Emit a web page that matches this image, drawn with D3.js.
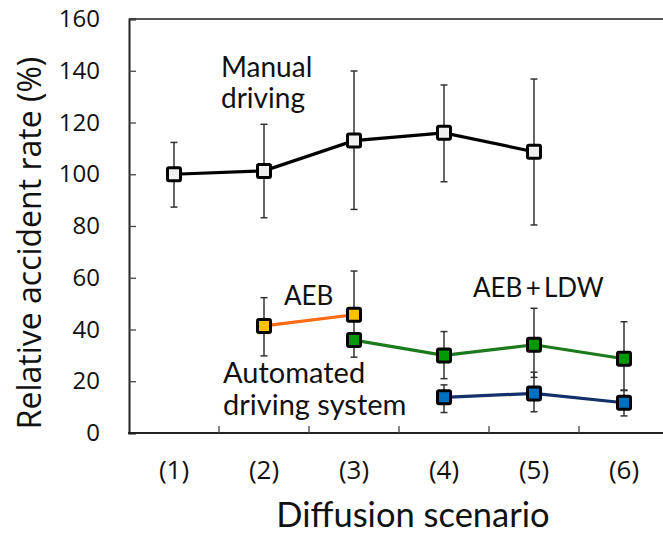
<!DOCTYPE html>
<html>
<head>
<meta charset="utf-8">
<script src="https://cdn.jsdelivr.net/npm/d3@7"></script>
<style>
  body { margin: 0; background: #fff; }
  svg { display: block; }
  .tick-label { font-family: "Open Sans", "DejaVu Sans", sans-serif; font-size: 24px; fill: #111; }
  .note { font-family: Lato, "Open Sans", sans-serif; fill: #111; }
</style>
</head>
<body>
<div id="chart"></div>
<script>
/*global d3:true */

// scenario labels on the x axis
var scenarios = ["(1)", "(2)", "(3)", "(4)", "(5)", "(6)"];
var yTicks = [0, 20, 40, 60, 80, 100, 120, 140, 160];

// manual driving, scenarios (1)-(5)
var manualIdx = [0, 1, 2, 3, 4];
var manualRate = [100, 101.3, 113, 116, 108.7];
var manualLow = [87.3, 83.2, 86.4, 97.1, 80.4];
var manualHigh = [112.3, 119.3, 139.9, 134.5, 136.8];

// AEB, scenarios (2)-(3)
var aebIdx = [1, 2];
var aebRate = [41.4, 45.7];
var aebLow = [29.8, 29.3];
var aebHigh = [52.3, 62.6];

// AEB + LDW, scenarios (3)-(6)
var ldwIdx = [2, 3, 4, 5];
var ldwRate = [35.9, 30.0, 34.1, 28.7];
var ldwLow = [35.9, 21.0, 21.5, 16.6];
var ldwHigh = [35.9, 39.2, 48.2, 43.0];

// automated driving system, scenarios (4)-(6)
var adsIdx = [3, 4, 5];
var adsRate = [13.8, 15.3, 11.7];
var adsLow = [7.9, 8.2, 6.6];
var adsHigh = [18.6, 23.5, 16.4];

(function () {
  var width = 663,
    height = 533,
    left = 129,
    top = 19,
    bottom = 433;

  var svg = d3.select("#chart").append("svg")
    .attr("width", width)
    .attr("height", height);

  // the plot runs a bit past the right edge of the picture
  var x = d3.scaleBand().domain(d3.range(scenarios.length)).range([left, 669]);
  var y = d3.scaleLinear().domain([0, 160]).range([bottom, top]);

  function cx(i) { return x(i) + x.bandwidth() / 2; }

  // frame
  svg.append("line")
    .attr("x1", left).attr("x2", width)
    .attr("y1", top).attr("y2", top)
    .attr("stroke", "#555").attr("stroke-width", 2);

  var yAxis = d3.axisLeft(y).tickValues(yTicks).tickSize(-7).tickPadding(29);
  var gy = svg.append("g").attr("transform", "translate(" + left + ",0)").call(yAxis);
  gy.select(".domain").attr("stroke", "#222").attr("stroke-width", 2);
  gy.selectAll(".tick line").attr("stroke", "#444").attr("stroke-width", 1.3);
  gy.selectAll(".tick text").attr("class", "tick-label").attr("font-size", null).attr("font-family", null);

  var xAxis = d3.axisBottom(x).tickSize(0).tickFormat(function (i) { return scenarios[i]; });
  var gx = svg.append("g").attr("transform", "translate(0," + bottom + ")").call(xAxis);
  gx.select(".domain").remove();
  gx.selectAll(".tick text").attr("class", "tick-label").attr("y", 46).attr("dy", 0)
    .style("font-size", "26px")
    .attr("font-size", null).attr("font-family", null);

  svg.append("line")
    .attr("x1", left - 1).attr("x2", width)
    .attr("y1", bottom).attr("y2", bottom)
    .attr("stroke", "#222").attr("stroke-width", 2);

  // inward ticks on the band edges
  svg.selectAll(".xedge")
    .data(d3.range(1, scenarios.length))
    .enter().append("line")
    .attr("x1", function (i) { return x(i); })
    .attr("x2", function (i) { return x(i); })
    .attr("y1", bottom).attr("y2", bottom - 7)
    .attr("stroke", "#444").attr("stroke-width", 1.3);

  svg.append("text")
    .attr("class", "tick-label")
    .attr("transform", "translate(41,243) rotate(-90)")
    .attr("text-anchor", "middle")
    .style("font-size", "32px")
    .text("Relative accident rate (%)");

  svg.append("text")
    .attr("class", "note")
    .attr("x", 413).attr("y", 527)
    .attr("text-anchor", "middle")
    .style("font-size", "34.5px")
    .text("Diffusion scenario");

  function series(idx, rate, low, high, lineColor, fill) {
    var pts = idx.map(function (d, k) {
      return { i: d, v: rate[k], lo: low[k], hi: high[k] };
    });
    var g = svg.append("g");

    var bars = g.selectAll(".err").data(pts).enter().append("g");
    bars.append("line")
      .attr("x1", function (d) { return cx(d.i); })
      .attr("x2", function (d) { return cx(d.i); })
      .attr("y1", function (d) { return y(d.lo); })
      .attr("y2", function (d) { return y(d.hi); });
    ["lo", "hi"].forEach(function (k) {
      bars.filter(function (d) { return d[k] !== d.v; }).append("line")
        .attr("x1", function (d) { return cx(d.i) - 3.5; })
        .attr("x2", function (d) { return cx(d.i) + 3.5; })
        .attr("y1", function (d) { return y(d[k]); })
        .attr("y2", function (d) { return y(d[k]); });
    });
    bars.selectAll("line").attr("stroke", "#333").attr("stroke-width", 1.5);

    g.append("path")
      .datum(pts)
      .attr("fill", "none")
      .attr("stroke", lineColor)
      .attr("stroke-width", 3.2)
      .attr("d", d3.line().x(function (d) { return cx(d.i); }).y(function (d) { return y(d.v); }));

    g.selectAll(".mk").data(pts).enter().append("rect")
      .attr("x", function (d) { return cx(d.i) - 6.5; })
      .attr("y", function (d) { return y(d.v) - 6.5; })
      .attr("width", 13).attr("height", 13)
      .attr("rx", 1.5)
      .attr("fill", fill)
      .attr("stroke", "#000")
      .attr("stroke-width", 3);
  }

  series(manualIdx, manualRate, manualLow, manualHigh, "#000", "#efefef");
  series(aebIdx, aebRate, aebLow, aebHigh, "#ff6a13", "#ffc000");
  series(ldwIdx, ldwRate, ldwLow, ldwHigh, "#1b7a1b", "#009a00");
  series(adsIdx, adsRate, adsLow, adsHigh, "#13306b", "#0070c0");

  // series names
  var notes = [
    { t: "Manual", x: 221, y: 77, s: 28 },
    { t: "driving", x: 221, y: 108, s: 28 },
    { t: "AEB", x: 284, y: 305, s: 26 },
    { t: "AEB\u2009+\u2009LDW", x: 473, y: 297, s: 26 },
    { t: "Automated", x: 223, y: 383, s: 29 },
    { t: "driving system", x: 223, y: 415, s: 29 }
  ];
  svg.selectAll(".note-t").data(notes).enter().append("text")
    .attr("class", "note")
    .attr("x", function (d) { return d.x; })
    .attr("y", function (d) { return d.y; })
    .style("font-size", function (d) { return d.s + "px"; })
    .text(function (d) { return d.t; });
}());
</script>
</body>
</html>
